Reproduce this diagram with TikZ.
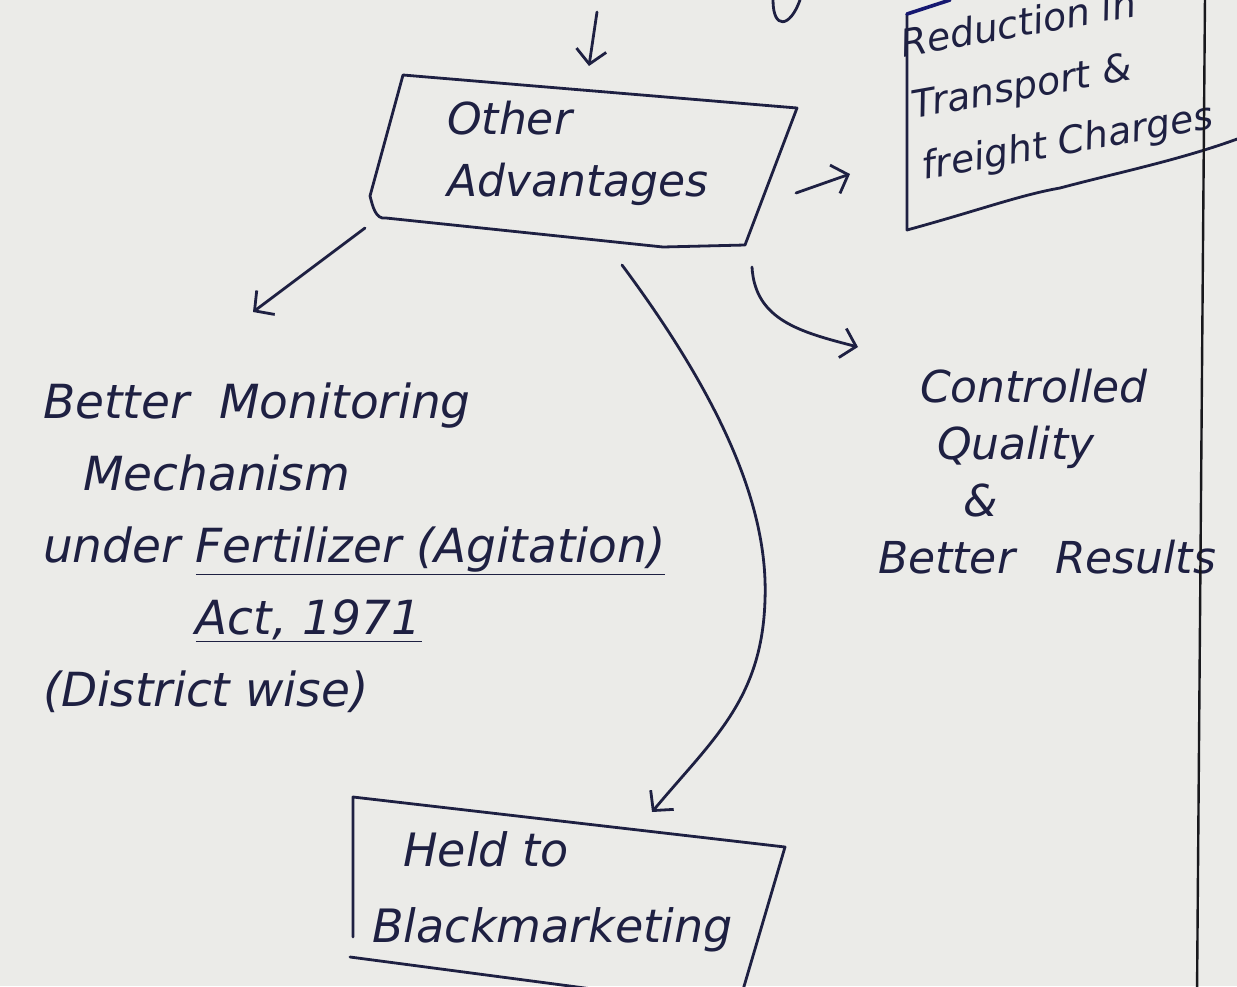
\documentclass[tikz,border=0pt]{standalone}
\usepackage{fontspec}
\setmainfont{DejaVu Sans}
\usepackage{tikz}
\usetikzlibrary{arrows.meta}
\definecolor{inkBlue}{RGB}{30,32,66}
\definecolor{paperGrey}{RGB}{235,235,232}
\definecolor{pageLine}{RGB}{24,24,28}
\tikzset{
pen/.style = {draw=inkBlue, line width=2.8pt, line cap=round, line join=round}
}
\tikzset{
arr/.style = {pen, -{Straight Barb[length=14pt, width=30pt]}}
}
\tikzset{
hand/.style 2 args = {text=inkBlue, align=left, inner sep=0pt,
                      font=\fontsize{#1}{#2}\selectfont\itshape}
}

\begin{document}
\begin{tikzpicture}[x=1pt, y=-1pt]

    \useasboundingbox (0,0) rectangle (1237,986);
    \fill[paperGrey] (0,0) rectangle (1237,986);
    \clip (0,0) rectangle (1237,986);

    % texts
    \node[hand={44}{62}, anchor=west] (otherBox) at (447,153) {Other\\Advantages};
    \node[hand={38}{62}, anchor=west, rotate=10] (redBox) at (912,108) {Reduction in\\Transport \&\\freight Charges};
    \node[hand={47}{72}, anchor=west] (monitorText) at (43,548) {Better\hspace*{30pt}Monitoring\\\hspace*{40pt}Mechanism\\under \underline{Fertilizer (Agitation)}\\\phantom{under }\underline{Act, 1971}\\(District wise)};
    \node[hand={44}{57}, anchor=west] (qualityText) at (878,472) {\hspace*{42pt}Controlled\\\hspace*{59pt}Quality\\\hspace*{85pt}\&\\Better\hspace*{40pt}Results};
    \node[hand={46}{76}, anchor=west] (heldBox) at (372,892) {\hspace*{31pt}Held to\\Blackmarketing};

    % ends of the strokes
    \coordinate (topStart) at (597,12);
    \coordinate (topEnd) at (589,66);
    \coordinate (otherRight) at (796,193);
    \coordinate (redLeft) at (850,174);
    \coordinate (otherLeft) at (365,228);
    \coordinate (monitorTop) at (253,312);
    \coordinate (otherLow) at (622,265);
    \coordinate (heldTop) at (652,812);
    \coordinate (otherCorner) at (752,267);
    \coordinate (qualityLeft) at (858,347);

    % boxes
    \draw[pen] (403,75) -- (797,108) -- (745,245) -- (663,247) -- (386,218)
               to[out=190, in=-75] (370,196) -- cycle;
    \draw[pen] (907,14) -- (907,230) .. controls (980,210) and (1020,195) .. (1060,188)
               .. controls (1120,172) and (1180,160) .. (1240,138);
    \draw[pen, draw=inkBlue!75!blue, line width=3.6pt] (907,14) -- (950,0);
    \draw[pen] (353,937) -- (353,797) -- (785,847) -- (740,1000);
    \draw[pen] (350,957) -- (600,990);
    \draw[pen] (773,0) .. controls (773,30) and (790,28) .. (800,0);
    \draw[line width=2.4pt, pageLine] (1205,-5) -- (1197,995);

    % arrows
    \draw[arr] (topStart) -- (topEnd);
    \draw[arr] (otherRight) -- (redLeft);
    \draw[arr] (otherLeft) -- (monitorTop);
    \draw[arr] (otherCorner) .. controls (755,320) and (800,332) .. (qualityLeft);
    \draw[arr] (otherLow) .. controls (735,417) and (768,520) .. (765,600)
               .. controls (762,700) and (712,740) .. (heldTop);

\end{tikzpicture}
\end{document}
